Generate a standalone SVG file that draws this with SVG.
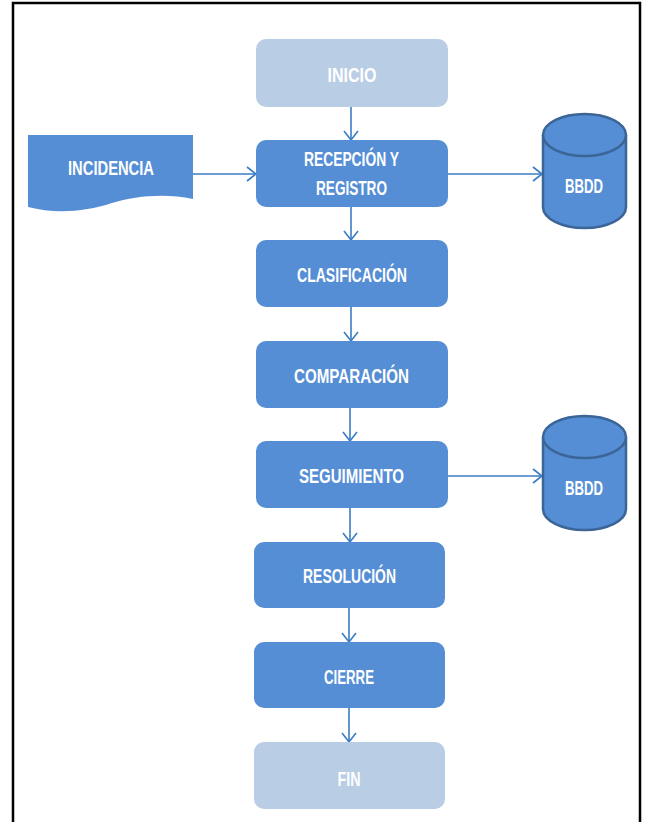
<svg xmlns="http://www.w3.org/2000/svg" width="649" height="822" viewBox="0 0 649 822">
<style>
.box{fill:#558ed5;}
.light{fill:#b9cde5;}
.cyl{fill:#558ed5;stroke:#3b6497;stroke-width:2.5;}
.t{font-family:"Liberation Sans",Arial,sans-serif;font-weight:bold;font-size:20px;fill:#ffffff;text-anchor:middle;}
.c{fill:none;stroke:#3a7cc4;stroke-width:1.6;}
</style>
<defs>
<marker id="ah" markerWidth="12" markerHeight="16" refX="10" refY="8" orient="auto" markerUnits="userSpaceOnUse">
<path d="M1,1 L10,8 L1,15" fill="none" stroke="#3a7cc4" stroke-width="1.6"/>
</marker>
</defs>
<rect x="0" y="0" width="649" height="822" fill="#ffffff"/>
<rect x="13" y="3" width="627" height="840" fill="none" stroke="#000000" stroke-width="2.5"/>

<g id="connectors">
<line class="c" x1="351" y1="107" x2="351" y2="140" marker-end="url(#ah)"/>
<line class="c" x1="351" y1="207" x2="351" y2="240" marker-end="url(#ah)"/>
<line class="c" x1="351" y1="307" x2="351" y2="341" marker-end="url(#ah)"/>
<line class="c" x1="350" y1="408" x2="350" y2="441" marker-end="url(#ah)"/>
<line class="c" x1="350" y1="508" x2="350" y2="542" marker-end="url(#ah)"/>
<line class="c" x1="349" y1="608" x2="349" y2="642" marker-end="url(#ah)"/>
<line class="c" x1="349" y1="708" x2="349" y2="742" marker-end="url(#ah)"/>
<line class="c" x1="193" y1="174" x2="256" y2="174" marker-end="url(#ah)"/>
<line class="c" x1="448" y1="174" x2="542" y2="174" marker-end="url(#ah)"/>
<line class="c" x1="448" y1="476" x2="542" y2="476" marker-end="url(#ah)"/>
</g>

<g id="inicio">
<rect class="light" x="256" y="39" width="192" height="68" rx="10"/>
<text class="t" x="352" y="82" textLength="49" lengthAdjust="spacingAndGlyphs">INICIO</text>
</g>
<g id="incidencia">
<path class="box" d="M28,135 H193 V199 C165,193 135,196 112,203 C85,212 55,214 28,207 Z"/>
<text class="t" x="111" y="175" textLength="86" lengthAdjust="spacingAndGlyphs">INCIDENCIA</text>
</g>
<g id="recepcion">
<rect class="box" x="256" y="140" width="192" height="67" rx="10"/>
<text class="t" x="351.5" y="166" textLength="95" lengthAdjust="spacingAndGlyphs">RECEPCIÓN Y</text>
<text class="t" x="351.5" y="195" textLength="71" lengthAdjust="spacingAndGlyphs">REGISTRO</text>
</g>
<g id="bbdd1">
<path class="cyl" d="M543,135 V207 A41.5,21 0 0 0 626,207 V135"/>
<ellipse class="cyl" cx="584.5" cy="135" rx="41.5" ry="21"/>
<text class="t" x="584" y="193" textLength="38" lengthAdjust="spacingAndGlyphs">BBDD</text>
</g>
<g id="clasificacion">
<rect class="box" x="256" y="240" width="192" height="67" rx="10"/>
<text class="t" x="352" y="282" textLength="110" lengthAdjust="spacingAndGlyphs">CLASIFICACIÓN</text>
</g>
<g id="comparacion">
<rect class="box" x="256" y="341" width="192" height="67" rx="10"/>
<text class="t" x="351.5" y="383" textLength="115" lengthAdjust="spacingAndGlyphs">COMPARACIÓN</text>
</g>
<g id="seguimiento">
<rect class="box" x="256" y="441" width="192" height="67" rx="10"/>
<text class="t" x="351.5" y="483" textLength="105" lengthAdjust="spacingAndGlyphs">SEGUIMIENTO</text>
</g>
<g id="bbdd2">
<path class="cyl" d="M543,437 V509 A41.5,21 0 0 0 626,509 V437"/>
<ellipse class="cyl" cx="584.5" cy="437" rx="41.5" ry="21"/>
<text class="t" x="584" y="495" textLength="38" lengthAdjust="spacingAndGlyphs">BBDD</text>
</g>
<g id="resolucion">
<rect class="box" x="254" y="542" width="191" height="66" rx="10"/>
<text class="t" x="349.5" y="583" textLength="93" lengthAdjust="spacingAndGlyphs">RESOLUCIÓN</text>
</g>
<g id="cierre">
<rect class="box" x="254" y="642" width="191" height="66" rx="10"/>
<text class="t" x="349" y="684" textLength="50" lengthAdjust="spacingAndGlyphs">CIERRE</text>
</g>
<g id="fin">
<rect class="light" x="254" y="742" width="191" height="67" rx="10"/>
<text class="t" x="349" y="786" textLength="23" lengthAdjust="spacingAndGlyphs">FIN</text>
</g>
</svg>
